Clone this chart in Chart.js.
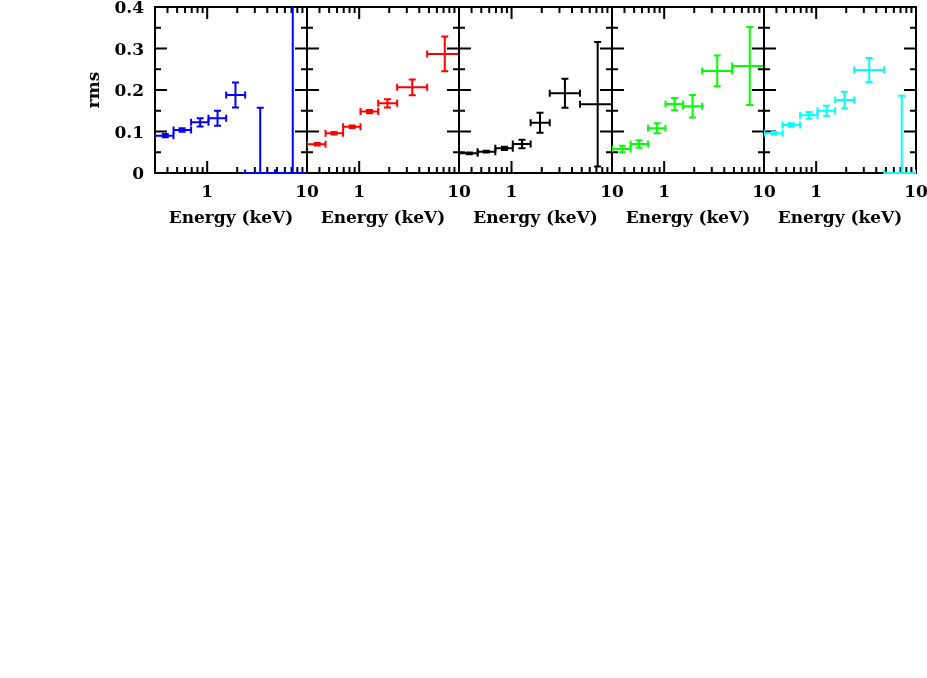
<!DOCTYPE html>
<html>
<head>
<meta charset="utf-8">
<script src="https://cdn.jsdelivr.net/npm/chart.js@4"></script>
<style>
  html, body { margin: 0; padding: 0; background: #fff; overflow: hidden; }
  #wrap { position: relative; width: 927px; height: 678px; overflow: hidden; }
  #wrap canvas { position: absolute; left: 0; top: -20px; }
</style>
</head>
<body>
<div id="wrap"></div>
<script>
// Energy bands (keV), same for every panel
const eLow  = [0.3, 0.46, 0.69, 1.03, 1.55, 2.4, 4.8];
const eHigh = [0.46, 0.69, 1.03, 1.55, 2.4, 4.8, 10];
const eMid  = [0.38, 0.56, 0.85, 1.27, 1.92, 3.4, 7.2];

// rms and 1-sigma errors per panel
const rmsBlue  = [0.090, 0.1036, 0.122, 0.132, 0.188, 0, 0];
const errBlue  = [0.004, 0.0045, 0.010, 0.018, 0.030, 0.157, 0.6];
const rmsRed   = [0.069, 0.0956, 0.1116, 0.148, 0.168, 0.2065, 0.287];
const errRed   = [0.003, 0.003, 0.003, 0.004, 0.010, 0.019, 0.042];
const rmsBlack = [0.0474, 0.0514, 0.0594, 0.0699, 0.121, 0.192, 0.1655];
const errBlack = [0.002, 0.002, 0.004, 0.010, 0.024, 0.035, 0.150];
const rmsGreen = [0.0578, 0.0699, 0.1077, 0.166, 0.161, 0.246, 0.258];
const errGreen = [0.008, 0.009, 0.012, 0.015, 0.027, 0.037, 0.094];
const rmsCyan  = [0.0956, 0.1157, 0.139, 0.150, 0.176, 0.248, 0];
const errCyan  = [0.003, 0.004, 0.008, 0.012, 0.020, 0.029, 0.186];

// axis ticks
const xTicks = [1, 10];
const xTickLabels = ["1", "10"];
const xMinor = [0.4, 0.5, 0.6, 0.7, 0.8, 0.9, 2, 3, 4, 5, 6, 7, 8, 9];
const yTicks = [0, 0.1, 0.2, 0.3, 0.4];
const yTickLabels = ["0", "0.1", "0.2", "0.3", "0.4"];
const yMinor = [0.05, 0.15, 0.25, 0.35];

const panels = [
  { rms: rmsBlue,  err: errBlue,  color: "#0000ff" },
  { rms: rmsRed,   err: errRed,   color: "#ff0000" },
  { rms: rmsBlack, err: errBlack, color: "#000000" },
  { rms: rmsGreen, err: errGreen, color: "#00ff00" },
  { rms: rmsCyan,  err: errCyan,  color: "#00ffff" }
];

// panel edges in page pixels (canvas is shifted up by 20px)
const panelLeft  = [155, 307, 459, 612, 764];
const panelRight = [307, 459, 612, 764, 916];
const CW = 960, CH = 252, TOP = 27, AXIS_H = 59;

Chart.defaults.font.family = "'DejaVu Serif', serif";
Chart.defaults.font.size = 17;
Chart.defaults.font.weight = "bold";
Chart.defaults.color = "#000";

// frame + inward ticks first, then the error bars on top
const errorBars = {
  id: "errorBars",
  beforeDatasetsDraw(chart) {
    const ctx = chart.ctx, a = chart.chartArea;
    const xs = chart.scales.x, ys = chart.scales.y;
    ctx.save();
    ctx.strokeStyle = "#000";
    ctx.lineWidth = 2;
    ctx.beginPath();
    const tick = (vals, len) => {
      vals.forEach(v => {
        const px = xs.getPixelForValue(v);
        ctx.moveTo(px, a.bottom); ctx.lineTo(px, a.bottom - len);
        ctx.moveTo(px, a.top); ctx.lineTo(px, a.top + len);
      });
    };
    tick(xMinor, 6);
    tick(xTicks.filter(v => v < 10), 12);
    yMinor.forEach(v => {
      const py = ys.getPixelForValue(v);
      ctx.moveTo(a.left, py); ctx.lineTo(a.left + 6, py);
      ctx.moveTo(a.right, py); ctx.lineTo(a.right - 6, py);
    });
    yTicks.slice(1, -1).forEach(v => {
      const py = ys.getPixelForValue(v);
      ctx.moveTo(a.left, py); ctx.lineTo(a.left + 12, py);
      ctx.moveTo(a.right, py); ctx.lineTo(a.right - 12, py);
    });
    ctx.stroke();
    ctx.strokeRect(a.left, a.top, a.right - a.left, a.bottom - a.top);
    ctx.restore();
  },
  afterDatasetsDraw(chart) {
    const ctx = chart.ctx, a = chart.chartArea;
    const xs = chart.scales.x, ys = chart.scales.y;
    ctx.save();
    ctx.beginPath();
    ctx.rect(a.left, a.top - 1, a.right - a.left, a.bottom - a.top + 2);
    ctx.clip();
    ctx.lineWidth = 2;
    chart.data.datasets.forEach(ds => {
      ctx.strokeStyle = ds.borderColor;
      ds.data.forEach(p => {
        const x = xs.getPixelForValue(p.x);
        const x0 = xs.getPixelForValue(p.xMin), x1 = xs.getPixelForValue(p.xMax);
        const y = ys.getPixelForValue(p.y);
        const y0 = ys.getPixelForValue(p.y - p.err), y1 = ys.getPixelForValue(p.y + p.err);
        const c = 3.5;
        ctx.beginPath();
        ctx.moveTo(x0, y); ctx.lineTo(x1, y);
        ctx.moveTo(x0, y - c); ctx.lineTo(x0, y + c);
        ctx.moveTo(x1, y - c); ctx.lineTo(x1, y + c);
        ctx.moveTo(x, y0); ctx.lineTo(x, y1);
        ctx.moveTo(x - c, y0); ctx.lineTo(x + c, y0);
        ctx.moveTo(x - c, y1); ctx.lineTo(x + c, y1);
        ctx.stroke();
      });
    });
    ctx.restore();
  }
};

const wrap = document.getElementById("wrap");
panels.forEach((pn, i) => {
  const cv = document.createElement("canvas");
  cv.width = CW; cv.height = CH;
  wrap.appendChild(cv);
  const first = i === 0;
  const points = pn.rms.map((v, k) => ({
    x: eMid[k], y: v, xMin: eLow[k], xMax: eHigh[k], err: pn.err[k]
  }));
  new Chart(cv.getContext("2d"), {
    type: "scatter",
    data: { datasets: [{ data: points, borderColor: pn.color, backgroundColor: pn.color, pointRadius: 0 }] },
    options: {
      responsive: false,
      animation: false,
      devicePixelRatio: 1,
      layout: { padding: { left: first ? 0 : panelLeft[i], right: CW - panelRight[i], top: TOP, bottom: 0 } },
      plugins: { legend: { display: false }, tooltip: { enabled: false } },
      scales: {
        x: {
          type: "logarithmic",
          min: 0.3, max: 10,
          grid: { display: false, drawTicks: false },
          border: { display: false },
          afterBuildTicks: s => { s.ticks = xTicks.map(v => ({ value: v })); },
          afterFit: s => { s.height = AXIS_H; },
          ticks: { padding: 9, maxRotation: 0, autoSkip: false, callback: (v, k) => xTickLabels[k] },
          title: { display: true, text: "Energy (keV)", padding: { top: 0, bottom: 3 } }
        },
        y: {
          display: first,
          min: 0, max: 0.4,
          grid: { display: false, drawTicks: false },
          border: { display: false },
          afterBuildTicks: s => { s.ticks = yTicks.map(v => ({ value: v })); },
          afterFit: s => { if (first) s.width = panelLeft[0]; },
          ticks: { padding: 11, labelOffset: 2, callback: (v, k) => yTickLabels[k] },
          title: { display: true, text: "rms", padding: { top: 84, bottom: 0 } }
        }
      }
    },
    plugins: [errorBars]
  });
});
</script>
</body>
</html>
